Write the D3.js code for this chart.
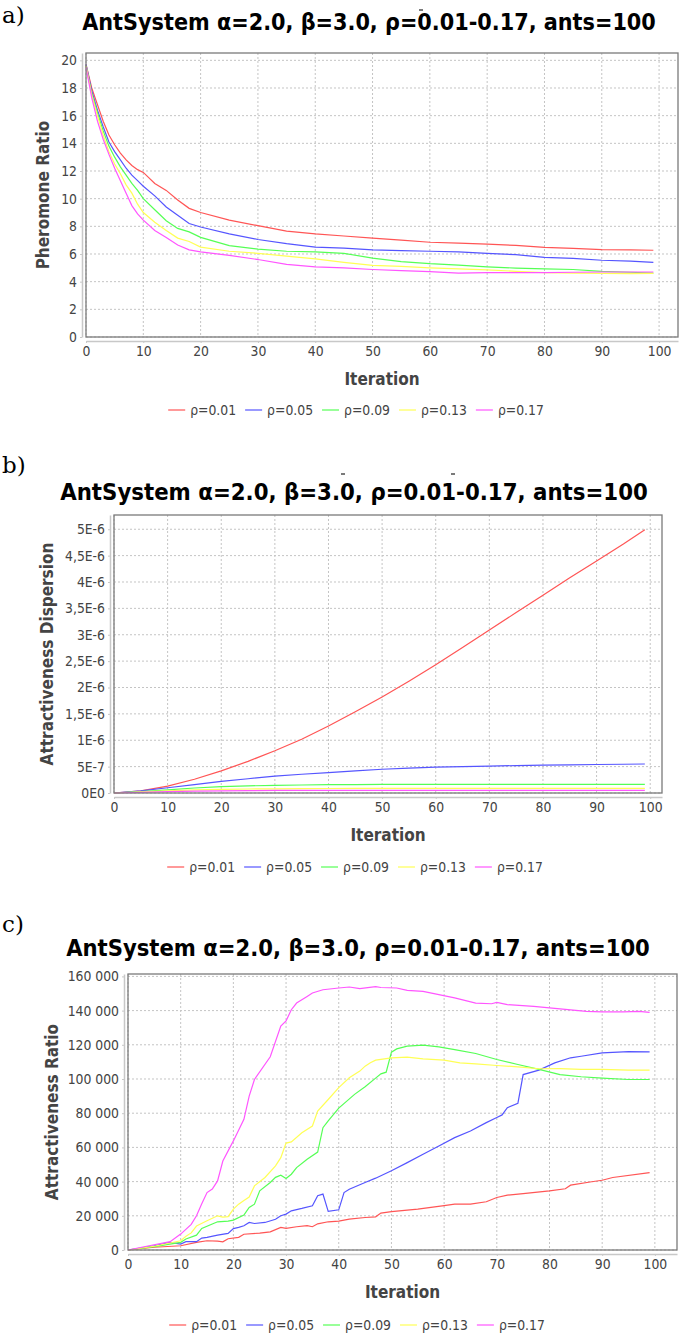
<!DOCTYPE html>
<html>
<head>
<meta charset="utf-8">
<script src="https://cdn.jsdelivr.net/npm/d3@7"></script>
<style>
  body { margin: 0; background: #fff; }
  text { font-family: "DejaVu Sans Condensed", "DejaVu Sans", sans-serif; }
</style>
</head>
<body>
<div id="chart"></div>
<script>
// Three JFreeChart-style line charts, one per metric

var titleText = "AntSystem α=2.0, β=3.0, ρ=0.01-0.17, ants=100";
var seriesNames = ["ρ=0.01", "ρ=0.05", "ρ=0.09", "ρ=0.13", "ρ=0.17"];
var seriesColors = ["#ff5555", "#5555ff", "#55ff55", "#ffff55", "#ff55ff"];
var xTicks = [0, 10, 20, 30, 40, 50, 60, 70, 80, 90, 100];

// a) Pheromone ratio
var iterA = [0, 1, 2, 3, 4, 5, 6, 7, 8, 9, 10, 12, 14, 16, 18, 20, 25, 30, 35, 40, 45, 50, 55, 60, 65, 70, 75, 80, 85, 90, 95, 99];
var pherR001 = [19.7, 18.0, 16.8, 15.6, 14.6, 13.9, 13.3, 12.8, 12.4, 12.1, 11.9, 11.1, 10.6, 9.9, 9.3, 9.0, 8.45, 8.05, 7.65, 7.45, 7.3, 7.15, 7.0, 6.85, 6.78, 6.72, 6.62, 6.48, 6.4, 6.32, 6.3, 6.27];
var pherR005 = [19.7, 17.8, 16.4, 15.2, 14.1, 13.4, 12.8, 12.2, 11.7, 11.3, 10.9, 10.2, 9.4, 8.8, 8.2, 7.95, 7.45, 7.05, 6.75, 6.5, 6.42, 6.3, 6.25, 6.2, 6.15, 6.05, 5.95, 5.75, 5.68, 5.55, 5.48, 5.39];
var pherR009 = [19.6, 17.6, 16.2, 14.9, 13.8, 13.0, 12.3, 11.7, 11.1, 10.6, 10.0, 9.2, 8.4, 7.85, 7.6, 7.2, 6.6, 6.35, 6.2, 6.15, 6.05, 5.7, 5.45, 5.3, 5.2, 5.07, 4.98, 4.93, 4.88, 4.75, 4.68, 4.62];
var pherR013 = [19.6, 17.5, 16.0, 14.6, 13.4, 12.5, 11.8, 11.0, 10.4, 9.6, 9.0, 8.3, 7.7, 7.15, 6.9, 6.5, 6.2, 6.05, 5.85, 5.65, 5.4, 5.18, 5.1, 5.0, 4.92, 4.85, 4.75, 4.65, 4.62, 4.6, 4.58, 4.6];
var pherR017 = [19.5, 17.3, 15.6, 14.3, 13.2, 12.2, 11.3, 10.4, 9.5, 8.9, 8.45, 7.7, 7.2, 6.65, 6.3, 6.15, 5.9, 5.6, 5.25, 5.07, 5.0, 4.88, 4.8, 4.72, 4.62, 4.65, 4.65, 4.66, 4.68, 4.7, 4.7, 4.7];
var pherTicks = [0, 2, 4, 6, 8, 10, 12, 14, 16, 18, 20];
var pherTickLabels = ["0", "2", "4", "6", "8", "10", "12", "14", "16", "18", "20"];

// b) Attractiveness dispersion, in units of 1E-6
var iterB = [0, 5, 10, 15, 20, 25, 30, 35, 40, 45, 50, 55, 60, 65, 70, 75, 80, 85, 90, 95, 99];
var dispR001 = [0, 0.04, 0.13, 0.26, 0.42, 0.6, 0.8, 1.02, 1.27, 1.54, 1.82, 2.12, 2.43, 2.76, 3.09, 3.42, 3.75, 4.08, 4.4, 4.72, 4.99];
var dispR005 = [0, 0.04, 0.1, 0.16, 0.22, 0.27, 0.32, 0.355, 0.385, 0.42, 0.45, 0.47, 0.49, 0.5, 0.51, 0.52, 0.53, 0.535, 0.54, 0.545, 0.55];
var dispR009 = [0, 0.025, 0.06, 0.095, 0.12, 0.135, 0.145, 0.152, 0.157, 0.16, 0.162, 0.163, 0.164, 0.165, 0.165, 0.165, 0.165, 0.165, 0.165, 0.165, 0.165];
var dispR013 = [0, 0.02, 0.04, 0.06, 0.07, 0.076, 0.08, 0.083, 0.085, 0.086, 0.087, 0.088, 0.088, 0.088, 0.088, 0.088, 0.088, 0.088, 0.088, 0.088, 0.088];
var dispR017 = [0, 0.012, 0.025, 0.035, 0.042, 0.046, 0.048, 0.05, 0.05, 0.05, 0.05, 0.05, 0.05, 0.05, 0.05, 0.05, 0.05, 0.05, 0.05, 0.05, 0.05];
var dispTicks = [0, 0.5, 1, 1.5, 2, 2.5, 3, 3.5, 4, 4.5, 5];
var dispTickLabels = ["0E0", "5E-7", "1E-6", "1,5E-6", "2E-6", "2,5E-6", "3E-6", "3,5E-6", "4E-6", "4,5E-6", "5E-6"];

// c) Attractiveness ratio
var iterC001 = [0, 5, 10, 13, 15, 17, 18, 19, 21, 22, 25, 27, 29, 30, 32, 34, 35, 36, 38, 40, 42, 45, 47, 48, 50, 55, 60, 62, 65, 68, 70, 72, 75, 80, 83, 84, 88, 90, 92, 99];
var attrR001 = [0, 1600, 2500, 4500, 5400, 5200, 4800, 6600, 7400, 9200, 9900, 10600, 13200, 12600, 13600, 14200, 13600, 15300, 16500, 16900, 18000, 19000, 19400, 21600, 22400, 23900, 25900, 26800, 26800, 28200, 30700, 32100, 33000, 34600, 35800, 37900, 39900, 40800, 42400, 45300];
var iterC005 = [0, 5, 8, 10, 11, 13, 14, 15, 17, 19, 20, 21, 22, 23, 24, 26, 28, 29, 30, 31, 33, 35, 36, 37, 38, 40, 41, 42, 45, 47, 50, 53, 56, 59, 62, 65, 68, 70, 71, 72, 74, 75, 78, 81, 84, 86, 90, 95, 99];
var attrR005 = [0, 2500, 4500, 3500, 4900, 4900, 7000, 7400, 8700, 9700, 12500, 13200, 14200, 16100, 15500, 16100, 18000, 20000, 21000, 22900, 24300, 25900, 31700, 32700, 22600, 23500, 33600, 35500, 39500, 42000, 46300, 51100, 56000, 60800, 65700, 69600, 74500, 77500, 79000, 83200, 85800, 102600, 105200, 109400, 112400, 113300, 115300, 116000, 115900];
var iterC009 = [0, 5, 10, 11, 13, 14, 16, 17, 19, 20, 22, 23, 24, 25, 27, 28, 29, 30, 31, 32, 34, 36, 37, 38, 40, 43, 45, 47, 48, 49, 50, 51, 53, 56, 59, 62, 66, 70, 74, 78, 82, 86, 90, 95, 99];
var attrR009 = [0, 2000, 4500, 6400, 8700, 12600, 15200, 16500, 16900, 17500, 20400, 24900, 26800, 34600, 39500, 42500, 43700, 41800, 44300, 48200, 53100, 57300, 71500, 75500, 83000, 91000, 95500, 100500, 103000, 104000, 115700, 117600, 119200, 119800, 118800, 117200, 114900, 111400, 108500, 105600, 102600, 101300, 100500, 99700, 99700];
var iterC013 = [0, 5, 10, 11, 12, 13, 15, 17, 18, 19, 20, 21, 22, 23, 24, 26, 28, 29, 30, 31, 33, 35, 36, 38, 40, 42, 44, 45, 46, 47, 50, 53, 56, 60, 63, 66, 70, 74, 78, 82, 86, 90, 95, 99];
var attrR013 = [0, 2200, 5400, 8000, 10000, 14000, 17100, 20000, 19200, 19500, 23900, 26800, 29000, 31000, 37500, 42400, 49200, 54000, 62500, 63200, 68600, 72500, 81300, 88000, 95000, 100700, 104600, 107500, 109500, 111000, 112400, 112800, 111800, 111000, 109400, 108900, 107900, 107100, 106000, 106100, 105600, 105600, 105200, 105200];
var iterC017 = [0, 4, 8, 10, 12, 13, 14, 15, 16, 17, 18, 20, 22, 23, 24, 27, 29, 30, 31, 32, 34, 35, 37, 40, 42, 44, 47, 48, 51, 53, 56, 59, 62, 66, 69, 70, 72, 77, 82, 87, 90, 94, 97, 99];
var attrR017 = [0, 2500, 4900, 9300, 15000, 20000, 27000, 33600, 35600, 40400, 52000, 63800, 76400, 90000, 99700, 113000, 131000, 134000, 140500, 144400, 148300, 150300, 152200, 153200, 153800, 152800, 154000, 153500, 153200, 151800, 151200, 149300, 147400, 144400, 144000, 144800, 143500, 142500, 141000, 139600, 139200, 139200, 139600, 139000];
var attrTicks = [0, 20000, 40000, 60000, 80000, 100000, 120000, 140000, 160000];
var attrTickLabels = ["0", "20 000", "40 000", "60 000", "80 000", "100 000", "120 000", "140 000", "160 000"];

var width = 679, height = 1337;

var svg = d3.select('#chart').append('svg')
  .attr('width', width)
  .attr('height', height);

function drawPanel(p) {
  var x = d3.scaleLinear().domain([0, p.xMax]).range([p.left, p.right]);
  var y = d3.scaleLinear().domain([0, p.yMax]).range([p.bottom, p.top]);
  var g = svg.append('g');

  // panel letter
  g.append('text')
    .attr('x', 2).attr('y', p.letterY)
    .style('font-family', '"DejaVu Serif", serif')
    .style('font-size', '23px')
    .style('fill', '#000')
    .text(p.letter);

  // title, sized to match the reference width
  var title = g.append('text')
    .attr('x', p.titleX).attr('y', p.titleY)
    .attr('text-anchor', 'middle')
    .style('font-weight', 'bold')
    .style('font-size', '22px')
    .style('fill', '#000')
    .text(titleText);
  var tw = title.node().getComputedTextLength();
  title.style('font-size', (22 * p.titleW / tw) + 'px');

  // little overline specks left over above the title
  g.selectAll('.speck').data(p.specks).enter().append('line')
    .attr('x1', function(d) { return d[0]; }).attr('x2', function(d) { return d[0] + 4; })
    .attr('y1', function(d) { return d[1]; }).attr('y2', function(d) { return d[1]; })
    .style('stroke', '#222').style('stroke-width', 1.2);

  // grid
  g.append('g').selectAll('line').data(xTicks).enter().append('line')
    .attr('x1', function(d) { return x(d); }).attr('x2', function(d) { return x(d); })
    .attr('y1', p.top).attr('y2', p.bottom)
    .style('stroke', '#c4c4c4').style('stroke-dasharray', '2,2');
  g.append('g').selectAll('line').data(p.yTicks).enter().append('line')
    .attr('x1', p.left).attr('x2', p.right)
    .attr('y1', function(d) { return y(d); }).attr('y2', function(d) { return y(d); })
    .style('stroke', '#c4c4c4').style('stroke-dasharray', '2,2');

  // series
  var line = d3.line()
    .x(function(d) { return x(d[0]); })
    .y(function(d) { return y(d[1]); });
  p.series.forEach(function(s, i) {
    var pts = s.x.map(function(v, j) { return [v, s.y[j]]; });
    g.append('path')
      .datum(pts)
      .attr('d', line)
      .style('fill', 'none')
      .style('stroke', seriesColors[i])
      .style('stroke-width', 1.2);
  });

  // plot outline
  g.append('rect')
    .attr('x', p.left).attr('y', p.top)
    .attr('width', p.right - p.left).attr('height', p.bottom - p.top)
    .style('fill', 'none').style('stroke', '#7a7a7a').style('stroke-width', 1.3);

  // axes, offset from the plot like JFreeChart
  var xAxis = g.append('g')
    .attr('transform', 'translate(0,' + (p.bottom + 4) + ')')
    .call(d3.axisBottom(x).tickValues(xTicks).tickFormat(d3.format('d')).tickSize(2).tickSizeOuter(0).tickPadding(3));
  var yAxis = g.append('g')
    .attr('transform', 'translate(' + (p.left - 4) + ',0)')
    .call(d3.axisLeft(y).tickValues(p.yTicks).tickFormat(function(d, i) { return p.yTickLabels[i]; }).tickSize(2).tickSizeOuter(0).tickPadding(3));
  [xAxis, yAxis].forEach(function(a) {
    a.select('.domain').style('stroke', '#c8c8c8').style('stroke-width', 1.5);
    a.selectAll('.tick line').style('stroke', '#c8c8c8');
    a.selectAll('.tick text')
      .style('font-family', '"DejaVu Sans Condensed", "DejaVu Sans", sans-serif')
      .style('font-size', '13.8px')
      .style('fill', '#444');
  });

  // axis labels
  g.append('text')
    .attr('x', (p.left + p.right) / 2).attr('y', p.bottom + 48)
    .attr('text-anchor', 'middle')
    .style('font-weight', 'bold').style('font-size', '17px').style('fill', '#444')
    .text('Iteration');
  g.append('text')
    .attr('transform', 'translate(' + p.yLabelX + ',' + ((p.top + p.bottom) / 2) + ') rotate(-90)')
    .attr('text-anchor', 'middle')
    .style('font-weight', 'bold').style('font-size', '17px').style('fill', '#444')
    .text(p.yLabel);

  // legend
  var legend = g.append('g');
  var cx = 0;
  seriesNames.forEach(function(name, i) {
    legend.append('line')
      .attr('x1', cx).attr('x2', cx + 17)
      .attr('y1', 0).attr('y2', 0)
      .style('stroke', seriesColors[i]).style('stroke-width', 1.2);
    var t = legend.append('text')
      .attr('x', cx + 22).attr('y', 5)
      .style('font-size', '13.8px').style('fill', '#444')
      .text(name);
    cx += 22 + t.node().getComputedTextLength() + 9;
  });
  cx -= 9;
  legend.attr('transform', 'translate(' + (p.legendX - cx / 2) + ',' + p.legendY + ')');
}

drawPanel({
  letter: 'a)', letterY: 23,
  titleX: 369, titleY: 30, titleW: 574,
  specks: [[419, 10]],
  left: 86, right: 678, top: 53, bottom: 337,
  xMax: 103.3, yMax: 20.53,
  yTicks: pherTicks, yTickLabels: pherTickLabels,
  yLabel: 'Pheromone Ratio', yLabelX: 49,
  legendX: 356, legendY: 410,
  series: [
    { x: iterA, y: pherR001 }, { x: iterA, y: pherR005 }, { x: iterA, y: pherR009 },
    { x: iterA, y: pherR013 }, { x: iterA, y: pherR017 }
  ]
});

drawPanel({
  letter: 'b)', letterY: 473,
  titleX: 354, titleY: 500, titleW: 588,
  specks: [[341, 474], [451, 474]],
  left: 114, right: 662, top: 515, bottom: 793,
  xMax: 102.2, yMax: 5.27,
  yTicks: dispTicks, yTickLabels: dispTickLabels,
  yLabel: 'Attractiveness Dispersion', yLabelX: 53,
  legendX: 355, legendY: 867,
  series: [
    { x: iterB, y: dispR001 }, { x: iterB, y: dispR005 }, { x: iterB, y: dispR009 },
    { x: iterB, y: dispR013 }, { x: iterB, y: dispR017 }
  ]
});

drawPanel({
  letter: 'c)', letterY: 932,
  titleX: 358, titleY: 956, titleW: 584,
  specks: [],
  left: 128, right: 677, top: 974, bottom: 1250,
  xMax: 104.2, yMax: 161400,
  yTicks: attrTicks, yTickLabels: attrTickLabels,
  yLabel: 'Attractiveness Ratio', yLabelX: 58,
  legendX: 357, legendY: 1325,
  series: [
    { x: iterC001, y: attrR001 }, { x: iterC005, y: attrR005 }, { x: iterC009, y: attrR009 },
    { x: iterC013, y: attrR013 }, { x: iterC017, y: attrR017 }
  ]
});
</script>
</body>
</html>
